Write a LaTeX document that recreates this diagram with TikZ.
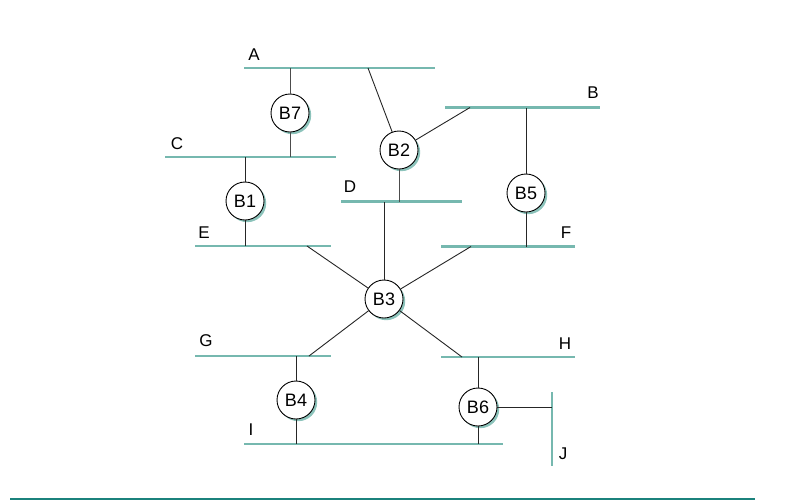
\documentclass[tikz,border=0pt]{standalone}
\usepackage{fontspec}
\setmainfont{Liberation Sans}
\usetikzlibrary{shadows}
\definecolor{busteal}{HTML}{76B8AF}
\definecolor{rulteal}{HTML}{1B827C}
\definecolor{shadteal}{HTML}{8CC3BB}
\begin{document}
\begin{tikzpicture}[x=1pt,y=-1pt,
  bus/.style={draw=busteal,line width=2.8pt},
  link/.style={draw=black!85,line width=0.9pt},
  bridge/.style={circle,draw=black,line width=0.9pt,fill=white,minimum size=38pt,inner sep=0pt,
    font=\fontsize{18}{20}\selectfont,
    drop shadow={shadow xshift=2.2pt,shadow yshift=-2.2pt,fill=shadteal,opacity=1}},
  lbl/.style={font=\fontsize{17}{20}\selectfont,inner sep=0pt}]
\useasboundingbox (0,0) rectangle (805,501);
% buses
\coordinate (A1) at (244,68);  \coordinate (A2) at (435,68);
\coordinate (Bb1) at (445,107.5); \coordinate (Bb2) at (600,107.5);
\coordinate (C1) at (165,157); \coordinate (C2) at (336,157);
\coordinate (D1) at (341,201.5); \coordinate (D2) at (462,201.5);
\coordinate (E1) at (195,246); \coordinate (E2) at (331,246);
\coordinate (F1) at (441,246.5); \coordinate (F2) at (575,246.5);
\coordinate (G1) at (195,356); \coordinate (G2) at (331,356);
\coordinate (H1) at (441,357); \coordinate (H2) at (575,357);
\coordinate (I1) at (244,444); \coordinate (I2) at (503,444);
\coordinate (J1) at (552,392); \coordinate (J2) at (552,466);
\draw[bus] (A1) -- (A2);
\draw[bus] (Bb1) -- (Bb2);
\draw[bus] (C1) -- (C2);
\draw[bus] (D1) -- (D2);
\draw[bus] (E1) -- (E2);
\draw[bus] (F1) -- (F2);
\draw[bus] (G1) -- (G2);
\draw[bus] (H1) -- (H2);
\draw[bus] (I1) -- (I2);
\draw[bus] (J1) -- (J2);
% labels
\node[lbl] (lA) at (254,55) {A};
\node[lbl] (lB) at (593,93) {B};
\node[lbl] (lC) at (177,144) {C};
\node[lbl] (lD) at (350,187) {D};
\node[lbl] (lE) at (204,233) {E};
\node[lbl] (lF) at (566,233) {F};
\node[lbl] (lG) at (206,341) {G};
\node[lbl] (lH) at (565,344) {H};
\node[lbl] (lI) at (251,430) {I};
\node[lbl] (lJ) at (563,454) {J};
% connection points on buses
\coordinate (pA7) at (290,68);   \coordinate (pC7) at (290,157);
\coordinate (pA2) at (368,68);   \coordinate (pB2) at (470,107.5); \coordinate (pD2) at (399,201.5);
\coordinate (pC1) at (245,157);  \coordinate (pE1) at (245,246);
\coordinate (pB5) at (526,107.5); \coordinate (pF5) at (526,246.5);
\coordinate (pD3) at (384,201.5); \coordinate (pE3) at (307,246); \coordinate (pF3) at (471,246.5);
\coordinate (pG3) at (309,356);  \coordinate (pH3) at (462,357);
\coordinate (pG4) at (296,356);  \coordinate (pI4) at (296,444);
\coordinate (pH6) at (478,357);  \coordinate (pI6) at (478,444); \coordinate (pJ6) at (552,407);
% bridges
\node[bridge] (B7) at (290,113) {B7};
\node[bridge] (B2) at (399,150) {B2};
\node[bridge] (B1) at (245,201) {B1};
\node[bridge] (B5) at (526,193) {B5};
\node[bridge] (B3) at (384,299) {B3};
\node[bridge] (B4) at (296,400) {B4};
\node[bridge] (B6) at (478,407) {B6};
% links
\draw[link,draw=black!70] (B7) -- (pA7);
\draw[link,draw=black!70] (B7) -- (pC7);
\draw[link] (B2) -- (pA2);
\draw[link] (B2) -- (pB2);
\draw[link,draw=black!70] (B2) -- (pD2);
\draw[link] (B1) -- (pC1);
\draw[link] (B1) -- (pE1);
\draw[link] (B5) -- (pB5);
\draw[link] (B5) -- (pF5);
\draw[link] (B3) -- (pD3);
\draw[link] (B3) -- (pE3);
\draw[link] (B3) -- (pF3);
\draw[link] (B3) -- (pG3);
\draw[link] (B3) -- (pH3);
\draw[link] (B4) -- (pG4);
\draw[link] (B4) -- (pI4);
\draw[link] (B6) -- (pH6);
\draw[link] (B6) -- (pI6);
\draw[link] (B6) -- (pJ6);
% bottom rule
\coordinate (R1) at (10,499); \coordinate (R2) at (755,499);
\draw[draw=rulteal,line width=1.6pt] (R1) -- (R2);
\end{tikzpicture}
\end{document}
